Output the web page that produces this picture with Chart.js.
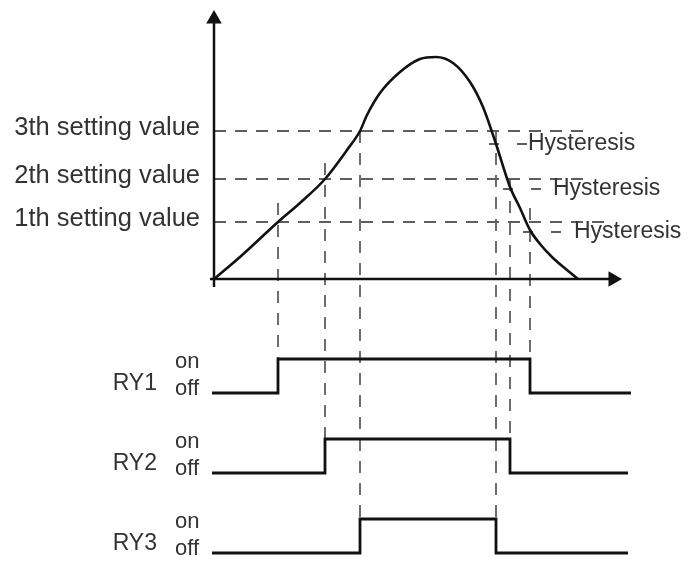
<!DOCTYPE html>
<html>
<head>
<meta charset="utf-8">
<script src="https://cdn.jsdelivr.net/npm/chart.js@4/dist/chart.umd.min.js"></script>
<style>
    html, body { margin: 0; padding: 0; background: #fff; }
    canvas { display: block; }
</style>
</head>
<body>
<canvas id="diagram" width="699" height="562"></canvas>
<script>
// Measured value vs time (top graph)
const curveTime = [0, 6.5, 16, 21.5, 27.75, 33.25, 36.5, 38.25, 41.5, 46.5, 51.5, 55.5, 59.75, 64, 67.25, 70.5, 74, 76.5, 79, 81.5, 84.75, 88.25, 91];
const curveValue = [0, 11, 28.5, 38, 50, 64.5, 74, 82, 93, 103.5, 110, 111, 108, 98.5, 86, 67.5, 46, 35.5, 24.5, 17.5, 10.5, 4.5, 0];

// Setting values (1th, 2th, 3th) and the level where each relay drops out
const settingLabels = ['1th setting value', '2th setting value', '3th setting value'];
const settingValues = [28.5, 50, 74];
const hysteresisValues = [23.5, 45, 67.5];
const hysteresisLabel = 'Hysteresis';

// Relay switching times
const relayLabels = ['RY1', 'RY2', 'RY3'];
const switchOn = [16, 27.75, 36.5];
const switchOff = [79, 74, 70.5];

// ---- layout (diagram units) ----
const settingLineEnd = [99, 92.25, 92.25];
const guideUpAsc = [9.5, 8, 0];
const guideUpDesc = [7, 0, 0];
const traceStart = -0.5;
const traceEnd = [104.25, 103.5, 103.5];
const laneOff = i => -57 - 40 * i;
const laneOn = i => laneOff(i) + 17;

const DASH_COLOR = '#5e5e5e';
const INK = '#111';

const line = (data, extra) => Object.assign({
    data,
    showLine: true,
    pointRadius: 0,
    borderColor: INK,
    borderWidth: 2.5,
    fill: false,
    clip: false,
    order: 1
}, extra);

const dashed = (data, dash) => line(data, {
    borderColor: DASH_COLOR,
    borderWidth: 1.8,
    borderDash: dash || [12, 9],
    order: 2
});

const datasets = [];

// setting value lines
settingValues.forEach((s, i) => {
    datasets.push(dashed([{ x: 0, y: s }, { x: settingLineEnd[i], y: s }]));
});

// hysteresis short lines
hysteresisValues.forEach((h, i) => {
    const x0 = switchOff[i] - 1.75;
    datasets.push(dashed([{ x: x0, y: h }, { x: x0 + 9.5, y: h }], [10, 18]));
});

// vertical guides down to relay traces
settingValues.forEach((s, i) => {
    datasets.push(dashed([{ x: switchOn[i], y: s + guideUpAsc[i] }, { x: switchOn[i], y: laneOn(i) }], [12, 10]));
    datasets.push(dashed([{ x: switchOff[i], y: s + guideUpDesc[i] }, { x: switchOff[i], y: laneOn(i) }], [12, 10]));
});

// the curve
datasets.push(line(curveTime.map((t, i) => ({ x: t, y: curveValue[i] })), {
    cubicInterpolationMode: 'monotone',
    borderWidth: 2.6
}));

// axes with arrow heads
datasets.push(line([{ x: 0, y: -4 }, { x: 0, y: 130 }], {
    pointRadius: [0, 9],
    pointStyle: 'triangle',
    pointBackgroundColor: INK,
    pointBorderColor: INK,
    pointBorderWidth: 0
}));
datasets.push(line([{ x: -1, y: 0 }, { x: 99.75, y: 0 }], {
    pointRadius: [0, 9],
    pointStyle: 'triangle',
    pointRotation: 90,
    pointBackgroundColor: INK,
    pointBorderColor: INK,
    pointBorderWidth: 0
}));

// relay traces
relayLabels.forEach((r, i) => {
    const off = laneOff(i), on = laneOn(i);
    datasets.push(line([
        { x: traceStart, y: off },
        { x: switchOn[i], y: off },
        { x: switchOn[i], y: on },
        { x: switchOff[i], y: on },
        { x: switchOff[i], y: off },
        { x: traceEnd[i], y: off }
    ], { borderWidth: 2.8, borderJoinStyle: 'miter', borderCapStyle: 'butt' }));
});

const textPlugin = {
    id: 'diagramText',
    afterDraw(chart) {
        const { ctx, scales: { x, y } } = chart;
        const font = size => size + 'px "Liberation Sans", Arial, sans-serif';
        ctx.save();
        ctx.fillStyle = '#333';

        // setting labels left of the y axis
        ctx.font = font(25.5);
        ctx.textAlign = 'right';
        ctx.textBaseline = 'middle';
        settingLabels.forEach((lab, i) => {
            ctx.fillText(lab, x.getPixelForValue(0) - 14, y.getPixelForValue(settingValues[i]) - 3);
        });

        // hysteresis labels (3th one sits right on its dash)
        const gap = [3.25, 3, 0.25];
        ctx.font = font(23);
        ctx.textAlign = 'left';
        hysteresisValues.forEach((h, i) => {
            const end = switchOff[i] - 1.75 + 9.5;
            ctx.fillText(hysteresisLabel, x.getPixelForValue(end + gap[i]), y.getPixelForValue(h));
        });

        // relay labels
        ctx.textBaseline = 'alphabetic';
        relayLabels.forEach((r, i) => {
            const left = x.getPixelForValue(traceStart);
            const offPx = y.getPixelForValue(laneOff(i));
            const onPx = y.getPixelForValue(laneOn(i));
            ctx.font = font(23);
            ctx.textAlign = 'right';
            ctx.fillText(r, left - 55, offPx - 3);
            ctx.font = font(22);
            ctx.textAlign = 'left';
            ctx.fillText('on', left - 37, onPx + 9);
            ctx.fillText('off', left - 37, offPx + 2);
        });
        ctx.restore();
    }
};

new Chart(document.getElementById('diagram'), {
    type: 'scatter',
    data: { datasets },
    options: {
        responsive: false,
        animation: false,
        devicePixelRatio: 1,
        layout: { padding: 0, autoPadding: false },
        plugins: {
            legend: { display: false },
            tooltip: { enabled: false }
        },
        scales: {
            x: { type: 'linear', display: false, min: -53.5, max: 121.25 },
            y: { type: 'linear', display: false, min: -141.5, max: 139.5 }
        }
    },
    plugins: [textPlugin]
});
</script>
</body>
</html>
